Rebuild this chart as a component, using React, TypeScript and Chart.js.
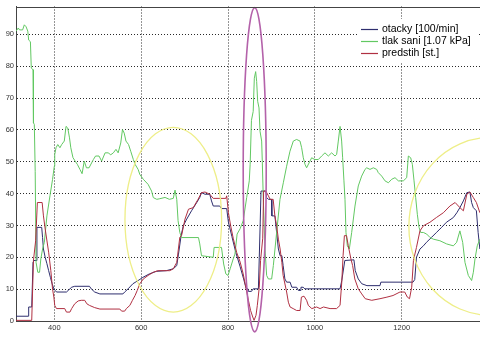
import React, { useEffect, useRef } from 'react';
import { Chart, registerables } from 'chart.js';

Chart.register(...registerables);

// ---- data ----
const otackyX = [312, 340, 341, 348, 351, 352, 358, 360, 371, 373, 375, 379, 383, 387, 391, 395, 399, 402, 405, 428, 432, 440, 447, 481, 485, 493, 505, 558, 562, 570, 581, 593, 604, 619, 635, 658, 674, 682, 686, 692, 697, 705, 716, 728, 735, 739, 747, 758, 762, 766, 781, 785, 797, 801, 809, 818, 828, 836, 842, 846, 847, 854, 858, 870, 872, 874, 876, 887, 889, 893, 900, 901, 908, 912, 916, 920, 924, 927, 931, 935, 943, 947, 958, 962, 966, 968, 973, 977, 1058, 1062, 1069, 1090, 1093, 1100, 1108, 1120, 1150, 1152, 1226, 1230, 1234, 1242, 1250, 1257, 1269, 1280, 1292, 1303, 1319, 1327, 1334, 1342, 1350, 1357, 1361, 1365, 1372, 1376, 1380];
const otackyY = [1.5, 1.5, 4.4, 4.4, 18.5, 19, 19, 29.4, 29.4, 26.2, 22.6, 20, 18, 15.8, 13.7, 11.7, 10.1, 9.6, 9.1, 9.1, 9.6, 10.6, 10.9, 10.9, 10.1, 9.1, 8.5, 8.5, 9.1, 10.1, 11.7, 12.7, 13.7, 14.8, 15.6, 15.8, 16.4, 17.4, 21, 26.8, 29.9, 32, 34.6, 37.2, 38.8, 40.3, 39.8, 39.8, 37.7, 36.1, 36.1, 35.3, 35.3, 31, 26.5, 21.5, 17, 13.2, 10.1, 10.1, 9.3, 9.3, 10.1, 10.1, 20, 30, 40.8, 40.8, 38.75, 38.2, 38.2, 33, 33, 27.8, 22.6, 20.5, 20.5, 17.4, 13.2, 12.2, 12.2, 10.6, 10.6, 9.6, 9.6, 10.6, 10.6, 10.1, 10.1, 12.7, 19, 19.2, 15.8, 13.2, 11.7, 11.1, 11.1, 12.2, 12.2, 13, 20, 22.6, 23.6, 24.7, 26.3, 27.8, 29.4, 31, 32.5, 34, 35.6, 37.7, 40.3, 40.5, 37.2, 35.6, 34.6, 27.8, 22.6];

const tlakX = [312, 317, 320, 327, 331, 335, 339, 341, 345, 347, 351, 352, 354, 356, 358, 362, 366, 369, 373, 377, 383, 390, 396, 400, 401, 404, 408, 413, 417, 423, 427, 431, 435, 438, 443, 448, 453, 459, 464, 469, 474, 480, 490, 495, 503, 509, 517, 524, 530, 536, 542, 547, 553, 557, 561, 565, 571, 576, 582, 586, 593, 597, 605, 616, 624, 628, 636, 643, 655, 665, 674, 678, 682, 685, 689, 693, 732, 735, 739, 766, 768, 785, 790, 795, 800, 805, 812, 816, 821, 828, 835, 843, 849, 851, 854, 858, 860.6, 863.7, 866, 868.3, 871.4, 873.7, 877.5, 879, 881.3, 885.2, 889, 893, 900.5, 904.4, 912, 919.7, 927.4, 935, 942.7, 950.4, 958, 965.8, 969.6, 973.4, 977.3, 981, 988.8, 992.6, 1000, 1008, 1015.7, 1023.3, 1031, 1038.7, 1046.4, 1050.2, 1054, 1058, 1061.7, 1064, 1067, 1069.4, 1071.7, 1074.8, 1079.4, 1084.8, 1092.4, 1100, 1107.8, 1115.5, 1119.4, 1127, 1134.7, 1142.4, 1146, 1153.9, 1161.6, 1169.3, 1177, 1184.6, 1192.3, 1203.8, 1211.5, 1215.3, 1220.7, 1224.5, 1228.4, 1232.2, 1236, 1239.9, 1243.7, 1249.8, 1257.5, 1265, 1272.8, 1288, 1303.5, 1318.9, 1326.5, 1334, 1340.4, 1345.7, 1353.4, 1361, 1365, 1368.8, 1374, 1380];
const tlakY = [91, 92, 91.4, 91.4, 93, 92.4, 91, 88.2, 87.7, 79.4, 78.9, 62.2, 61.7, 47, 18.4, 15.3, 15.3, 19.5, 22.6, 24.7, 33, 39.3, 44.5, 48.6, 52.3, 54.4, 55.4, 54.4, 55.4, 56.5, 61.1, 60.6, 57.5, 54.4, 51.3, 50.2, 49.2, 47.6, 46.25, 50.2, 48.1, 48.1, 50.7, 51.8, 51.8, 50.2, 52.8, 52.8, 52.2, 52.8, 53.9, 52.8, 55.9, 60.1, 59, 56.5, 55.4, 53.3, 50.7, 49.2, 47.6, 46, 44.5, 42.9, 40.8, 38.75, 38.2, 38.4, 38.8, 38.2, 38.5, 41.1, 38.2, 31.5, 27.8, 26.2, 26.2, 24.2, 20.5, 20, 23.1, 23.1, 17.9, 14.8, 14.3, 16.4, 19.5, 21, 27.3, 29, 31.5, 38.75, 44, 49.2, 63, 65.8, 76.25, 78.3, 75.2, 69, 66.9, 59.6, 56.5, 50, 38.2, 22.6, 14.3, 13.2, 13.2, 17.4, 27.8, 38.2, 43.4, 48.6, 53.3, 56.5, 57, 56.5, 54.4, 51.25, 49.2, 48.1, 50.2, 51.25, 50.7, 50.7, 51.8, 52.8, 51.8, 52.8, 51.8, 52.3, 56.5, 61.1, 56.5, 51.25, 44, 38.2, 27.8, 23.6, 22.6, 27.8, 36.1, 42.4, 45.5, 47.6, 48.1, 47.6, 48.1, 47.6, 46.6, 45.5, 44, 43.4, 44.5, 45, 44, 44, 45, 51.8, 51.25, 49.2, 44, 38.75, 33.5, 29.4, 27.8, 27.8, 27.3, 26.25, 25.7, 25.2, 24.2, 23.6, 24.7, 28.3, 24.7, 18.4, 14.3, 12.7, 15.3, 19.5, 23.6, 25.7];

const predstihX = [312, 348, 352, 357, 361, 372, 375, 379, 387, 392, 396, 399, 401, 405, 424, 428, 436, 440, 447, 455, 462, 470, 475, 481, 493, 505, 551, 555, 562, 566, 574, 580, 586, 591, 597, 605, 616, 628, 639, 666, 674, 682, 689, 693, 701, 709, 720, 731, 739, 747, 758, 766, 795, 797, 801, 806, 812, 820, 828, 835, 841, 847, 852, 857, 860, 864.5, 867.5, 872, 875, 880, 882, 887, 893, 897, 904, 908, 912, 916, 920, 924, 927, 935, 939, 943, 950, 958, 966, 969, 975, 981, 985, 993, 1004, 1012, 1020, 1035, 1050, 1058, 1062, 1065, 1068, 1073, 1077, 1083, 1087, 1092, 1100, 1108, 1116, 1131, 1150, 1166, 1180, 1196, 1207, 1213, 1218, 1223, 1227, 1234, 1242, 1250, 1265, 1280, 1296, 1311, 1323, 1334, 1342, 1350, 1357, 1365, 1372, 1380];
const predstihY = [0.2, 0.2, 19, 25.2, 37.2, 37.2, 33, 28.9, 21.6, 15.8, 10, 7.5, 4.9, 3.9, 3.9, 2.8, 2.8, 3.9, 5.4, 6.3, 6.5, 6.5, 5.4, 4.9, 4.2, 3.75, 3.75, 3.1, 3.1, 3.9, 4.9, 6.5, 8, 9.6, 11.7, 13.2, 14.3, 15.3, 15.8, 15.8, 16.4, 18.4, 26.3, 26.8, 32, 35.1, 35.6, 38.2, 40.3, 40.5, 39.8, 38.5, 38.5, 39.3, 34, 30, 26, 21.5, 18.5, 14.8, 10.6, 6.5, 3.3, 1.25, 0.2, 1.8, 4.9, 10.6, 19, 26, 40.8, 40.8, 39.3, 38.2, 38.2, 33, 29.9, 25.7, 22.6, 18.4, 14.3, 9.1, 5.9, 4.4, 3.9, 3.3, 3.3, 7.5, 7.8, 6.5, 4.9, 3.9, 4.4, 3.9, 4.4, 3.9, 3.9, 4.9, 12.2, 20.5, 26.8, 26.8, 23.6, 19.5, 17.4, 13.2, 10.1, 8.5, 7, 6.5, 7, 7.5, 8, 9.1, 9.1, 7.5, 7, 10.6, 19, 23.1, 28.3, 29.9, 31, 32.5, 34, 36.1, 37.2, 35.6, 34.6, 39.8, 40.5, 38.75, 37.2, 34];

const seriesLabels = ['otacky [100/min]', 'tlak sani [1.07 kPa]', 'predstih [st.]'];
const xTickValues = [400, 600, 800, 1000, 1200];
const yTickValues = [0, 10, 20, 30, 40, 50, 60, 70, 80, 90];

// hand-drawn highlight ellipses (data coordinates)
const highlightCentersX = [674, 861.5, 1403];
const highlightCentersY = [31.8, 47.5, 29.7];
const highlightRadiiX = [111.3, 26.5, 186.5];
const highlightRadiiY = [29.0, 50.9, 27.9];

const COLORS = ['#2e2e6e', '#62c862', '#b03042'];
const ELLIPSE_COLORS = ['#eeee88', '#b462aa', '#eeee88'];
const FONT = '"Liberation Sans", Arial, sans-serif';

const toPoints = (xs: number[], ys: number[]) => xs.map((x, i) => ({ x, y: ys[i] }));

const ellipsePlugin = {
  id: 'highlightEllipses',
  afterDatasetsDraw(chart: any) {
    const { ctx, scales } = chart;
    const xs = scales.x;
    const ys = scales.y;
    ctx.save();
    for (let i = 0; i < highlightCentersX.length; i++) {
      const cx = xs.getPixelForValue(highlightCentersX[i]);
      const cy = ys.getPixelForValue(highlightCentersY[i]);
      const rx = Math.abs(xs.getPixelForValue(highlightCentersX[i] + highlightRadiiX[i]) - cx);
      const ry = Math.abs(ys.getPixelForValue(highlightCentersY[i] + highlightRadiiY[i]) - cy);
      ctx.beginPath();
      ctx.ellipse(cx, cy, rx, ry, 0, 0, Math.PI * 2);
      ctx.strokeStyle = ELLIPSE_COLORS[i];
      ctx.lineWidth = i === 1 ? 1.6 : 1.3;
      ctx.stroke();
    }
    ctx.restore();
  },
};

const framePlugin = {
  id: 'frameAndLegend',
  afterDraw(chart: any) {
    const { ctx, chartArea } = chart;
    ctx.save();
    ctx.strokeStyle = '#444';
    ctx.lineWidth = 1;
    ctx.beginPath();
    ctx.moveTo(chartArea.left, Math.round(chartArea.top) + 0.5);
    ctx.lineTo(chartArea.right, Math.round(chartArea.top) + 0.5);
    ctx.stroke();

    // legend
    const lx = 357;
    const ly = 19;
    ctx.fillStyle = '#ffffff';
    ctx.fillRect(lx, ly, 122, 44);
    ctx.font = `10.5px ${FONT}`;
    ctx.textBaseline = 'middle';
    ctx.textAlign = 'left';
    chart.data.datasets.forEach((ds: any, i: number) => {
      const y = 28.5 + i * 12.2;
      ctx.strokeStyle = ds.borderColor;
      ctx.lineWidth = 1.2;
      ctx.beginPath();
      ctx.moveTo(361, Math.round(y) + 0.5);
      ctx.lineTo(378, Math.round(y) + 0.5);
      ctx.stroke();
      ctx.fillStyle = '#000';
      ctx.fillText(ds.label, 382, y + 0.5);
    });
    ctx.restore();
  },
};

export default function App() {
  const canvasRef = useRef<HTMLCanvasElement | null>(null);

  useEffect(() => {
    if (!canvasRef.current) return;
    const chart = new Chart(canvasRef.current, {
      type: 'line',
      data: {
        datasets: [
          { label: seriesLabels[0], data: toPoints(otackyX, otackyY), borderColor: COLORS[0], order: 3 },
          { label: seriesLabels[1], data: toPoints(tlakX, tlakY), borderColor: COLORS[1], order: 2 },
          { label: seriesLabels[2], data: toPoints(predstihX, predstihY), borderColor: COLORS[2], order: 1 },
        ].map((d) => ({ ...d, borderWidth: 1, pointRadius: 0, fill: false, tension: 0 })),
      },
      options: {
        animation: false,
        responsive: false,
        devicePixelRatio: 1,
        layout: { padding: { top: 4, left: 0, right: 0, bottom: 0 } },
        plugins: { legend: { display: false }, tooltip: { enabled: false } },
        scales: {
          x: {
            type: 'linear',
            min: 311.8,
            max: 1380.3,
            afterBuildTicks: (s: any) => {
              s.ticks = xTickValues.map((v) => ({ value: v }));
            },
            afterFit: (s: any) => {
              s.height = 18;
            },
            ticks: {
              color: '#333',
              font: { family: FONT, size: 7.5 },
              padding: 2,
              maxRotation: 0,
              autoSkip: false,
              callback: (v: any) => String(v),
            },
            grid: { color: '#2a2a2a', drawTicks: false, tickLength: 0 },
            border: { display: true, color: '#444', width: 1, dash: [1, 2] },
          },
          y: {
            type: 'linear',
            min: 0,
            max: 98.75,
            afterBuildTicks: (s: any) => {
              s.ticks = yTickValues.map((v) => ({ value: v }));
            },
            afterFit: (s: any) => {
              s.width = 16;
            },
            ticks: {
              color: '#333',
              font: { family: FONT, size: 7.5 },
              padding: 2,
              autoSkip: false,
              callback: (v: any) => String(v),
            },
            grid: { color: '#2a2a2a', drawTicks: false, tickLength: 0 },
            border: { display: true, color: '#444', width: 1, dash: [1, 2] },
          },
        },
      },
      plugins: [ellipsePlugin, framePlugin],
    } as any);
    return () => chart.destroy();
  }, []);

  return (
    <div style={{ position: 'fixed', left: 0, top: 0, width: 480, height: 339, background: '#fff' }}>
      <canvas ref={canvasRef} width={480} height={339} style={{ display: 'block', width: 480, height: 339 }} />
    </div>
  );
}
